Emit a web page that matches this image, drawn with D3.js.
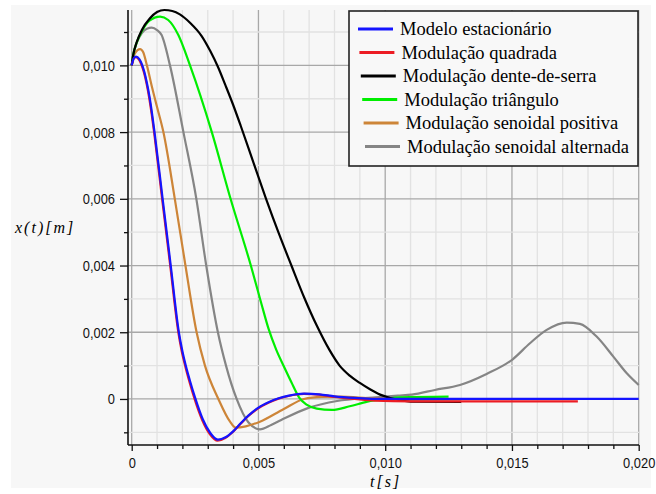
<!DOCTYPE html>
<html>
<head>
<meta charset="utf-8">
<script src="https://cdn.jsdelivr.net/npm/d3@7"></script>
<style>
  html, body { margin: 0; padding: 0; background: #ffffff; }
  svg { display: block; }
  .tick-label { font-family: "Liberation Sans", Arial, sans-serif; font-size: 15.5px; fill: #111; }
  .legend-text { font-family: "Liberation Serif", "Times New Roman", serif; font-size: 18.5px; fill: #000; }
  .axis-title { font-family: "Liberation Serif", "Times New Roman", serif; font-style: italic; font-size: 16px; fill: #000; }
</style>
</head>
<body>
<svg id="chart" width="656" height="494"></svg>
<script>
// Displacement x(t) [m] versus time t [s] for each modulation, as [t, x] pairs.
const modeloEstacionario = [
  [0, 0.01000], [0.00008, 0.01021], [0.00017, 0.01026], [0.00030, 0.01019], [0.00040, 0.01004],
  [0.00050, 0.00980], [0.00060, 0.00947], [0.00070, 0.00907], [0.00080, 0.00857], [0.00090, 0.00800],
  [0.00122, 0.00600], [0.00154, 0.00400], [0.00186, 0.00200], [0.00200, 0.00143], [0.00214, 0.00098],
  [0.00230, 0.00054], [0.00250, 0.00004], [0.00280, -0.00060], [0.00310, -0.00102], [0.00340, -0.00122],
  [0.00370, -0.00115], [0.00400, -0.00097], [0.00430, -0.00073], [0.00460, -0.00050], [0.00500, -0.00026],
  [0.00540, -0.00010], [0.00580, 0.00002], [0.00620, 0.00010], [0.00680, 0.00016], [0.00740, 0.00014],
  [0.00800, 0.00008], [0.00880, 0.00003], [0.00960, 0.00000], [0.01200, 0.00000], [0.02000, 0.00000]
];
const modulacaoQuadrada = [
  [0, 0.01000], [0.00008, 0.01020], [0.00016, 0.01025], [0.00029, 0.01017], [0.00039, 0.01001],
  [0.00049, 0.00977], [0.00059, 0.00944], [0.00069, 0.00903], [0.00079, 0.00853], [0.00089, 0.00796],
  [0.00120, 0.00600], [0.00152, 0.00400], [0.00184, 0.00200], [0.00198, 0.00141], [0.00212, 0.00096],
  [0.00228, 0.00051], [0.00248, 0.00000], [0.00278, -0.00063], [0.00308, -0.00105], [0.00339, -0.00125],
  [0.00369, -0.00117], [0.00399, -0.00099], [0.00429, -0.00075], [0.00459, -0.00052], [0.00499, -0.00028],
  [0.00539, -0.00011], [0.00579, 0.00001], [0.00619, 0.00009], [0.00679, 0.00015], [0.00739, 0.00013],
  [0.00800, 0.00006], [0.00880, 0.00000], [0.00960, -0.00005], [0.01100, -0.00007], [0.01760, -0.00007]
];
const modulacaoDenteDeSerra = [
  [0, 0.01000], [0.00006, 0.01031], [0.00020, 0.01070], [0.00040, 0.01106], [0.00072, 0.01141],
  [0.00100, 0.01160], [0.00129, 0.01166], [0.00160, 0.01163], [0.00190, 0.01153], [0.00230, 0.01128],
  [0.00276, 0.01088], [0.00310, 0.01043], [0.00340, 0.00996], [0.00370, 0.00940], [0.00400, 0.00882],
  [0.00430, 0.00819], [0.00480, 0.00709], [0.00530, 0.00600], [0.00580, 0.00497], [0.00630, 0.00400],
  [0.00680, 0.00305], [0.00730, 0.00220], [0.00780, 0.00147], [0.00820, 0.00100], [0.00860, 0.00070],
  [0.00900, 0.00048], [0.00940, 0.00029], [0.00980, 0.00013], [0.01020, 0.00003], [0.01060, -0.00004],
  [0.01100, -0.00008], [0.01300, -0.00009]
];
const modulacaoTriangulo = [
  [0, 0.01000], [0.00006, 0.01031], [0.00020, 0.01069], [0.00040, 0.01102], [0.00070, 0.01134],
  [0.00112, 0.01146], [0.00144, 0.01136], [0.00184, 0.01091], [0.00230, 0.01000], [0.00316, 0.00800],
  [0.00390, 0.00600], [0.00470, 0.00400], [0.00510, 0.00290], [0.00540, 0.00210], [0.00570, 0.00148],
  [0.00600, 0.00098], [0.00630, 0.00050], [0.00660, 0.00005], [0.00690, -0.00017], [0.00730, -0.00029],
  [0.00790, -0.00033], [0.00860, -0.00022], [0.00930, -0.00008], [0.01000, 0.00000], [0.01060, 0.00005],
  [0.01250, 0.00007]
];
const modulacaoSenoidalPositiva = [
  [0, 0.01000], [0.00012, 0.01035], [0.00033, 0.01049], [0.00045, 0.01040], [0.00060, 0.01000],
  [0.00080, 0.00935], [0.00100, 0.00875], [0.00125, 0.00800], [0.00170, 0.00600], [0.00212, 0.00400],
  [0.00256, 0.00200], [0.00289, 0.00100], [0.00342, 0.00000], [0.00388, -0.00068], [0.00410, -0.00086],
  [0.00450, -0.00082], [0.00506, -0.00068], [0.00600, -0.00030], [0.00680, 0.00000], [0.00750, 0.00006],
  [0.00820, 0.00007], [0.00950, 0.00002], [0.01050, 0.00000], [0.01200, 0.00000]
];
const modulacaoSenoidalAlternada = [
  [0, 0.01000], [0.00006, 0.01031], [0.00020, 0.01068], [0.00040, 0.01097], [0.00060, 0.01110],
  [0.00079, 0.01113], [0.00100, 0.01106], [0.00118, 0.01091], [0.00151, 0.01000], [0.00204, 0.00800],
  [0.00255, 0.00600], [0.00294, 0.00400], [0.00340, 0.00200], [0.00372, 0.00100], [0.00414, 0.00000],
  [0.00460, -0.00070], [0.00506, -0.00091], [0.00550, -0.00078], [0.00590, -0.00063], [0.00700, -0.00026],
  [0.00810, -0.00006], [0.00950, 0.00004], [0.01050, 0.00010], [0.01105, 0.00013], [0.01196, 0.00027],
  [0.01295, 0.00042], [0.01400, 0.00075], [0.01503, 0.00119], [0.01571, 0.00167], [0.01637, 0.00207],
  [0.01716, 0.00229], [0.01768, 0.00225], [0.01834, 0.00187], [0.01900, 0.00127], [0.01953, 0.00077],
  [0.02000, 0.00042]
];

const seriesNames = [
  "Modelo estacionário",
  "Modulação quadrada",
  "Modulação dente-de-serra",
  "Modulação triângulo",
  "Modulação senoidal positiva",
  "Modulação senoidal alternada"
];
const seriesData = [
  modeloEstacionario, modulacaoQuadrada, modulacaoDenteDeSerra,
  modulacaoTriangulo, modulacaoSenoidalPositiva, modulacaoSenoidalAlternada
];
const seriesColors = ["#1414ff", "#ec1c24", "#000000", "#00ee00", "#cd8538", "#858585"];

const xDomain = [0, 0.02];
const yDomain = [-0.00138, 0.01166];
const xMajorTicks = [0, 0.005, 0.010, 0.015, 0.020];
const yMajorTicks = [0, 0.002, 0.004, 0.006, 0.008, 0.010];

const svg = d3.select("#chart");

// panel background
svg.append("rect").attr("x", 11).attr("y", 5).attr("width", 640).attr("height", 483).attr("fill", "#f7f7f7");

const x = d3.scaleLinear().domain(xDomain).range([131.7, 638.7]);
const y = d3.scaleLinear().domain(yDomain).range([445, 10]);

const axisX0 = 128;   // y axis line position
const plotTop = 10, plotBottom = 445, plotRight = 639;

const fmt = d3.formatLocale({ decimal: ",", thousands: ".", grouping: [3], currency: ["", ""] }).format(".3f");
const label = v => (Math.abs(v) < 1e-12 ? "0" : fmt(v));
const narrow = 0.83;   // horizontal squeeze of the numeric labels

const xMinor = d3.range(0, 0.02 + 1e-9, 0.001);
const yMinor = d3.range(-0.001, 0.0115, 0.001);
const isMajorX = t => xMajorTicks.some(m => Math.abs(m - t) < 1e-9);
const isMajorY = v => Math.round(v * 1000) % 2 === 0;

// grid
const grid = svg.append("g");
grid.selectAll("line.vx").data(xMinor).join("line")
  .attr("x1", d => x(d)).attr("x2", d => x(d))
  .attr("y1", plotTop).attr("y2", plotBottom)
  .attr("stroke", d => isMajorX(d) ? "#a8a8a8" : "#e2e2e2")
  .attr("stroke-width", 1.3);
grid.selectAll("line.hy").data(yMinor).join("line")
  .attr("x1", axisX0).attr("x2", plotRight)
  .attr("y1", d => y(d)).attr("y2", d => y(d))
  .attr("stroke", d => isMajorY(d) ? "#a8a8a8" : "#e2e2e2")
  .attr("stroke-width", 1.3);

// curves, last legend entry drawn first
const line = d3.line().x(d => x(d[0])).y(d => y(d[1])).curve(d3.curveMonotoneX);
const order = [5, 4, 3, 2, 1, 0];
svg.append("g").selectAll("path").data(order).join("path")
  .attr("d", i => line(seriesData[i]))
  .attr("fill", "none")
  .attr("stroke", i => seriesColors[i])
  .attr("stroke-width", 2.2)
  .attr("stroke-linejoin", "round");

function styleLabels(g) {
  g.selectAll(".tick text").each(function () {
    const t = d3.select(this);
    const x0 = +t.attr("x") || 0;
    t.attr("class", "tick-label")
      .attr("fill", null)
      .attr("x", x0 / narrow)
      .attr("transform", `scale(${narrow},1)`);
  });
}

// y axis
const yAxisMinor = d3.axisLeft(y).tickValues(yMinor.filter(v => !isMajorY(v))).tickSize(4).tickFormat("");
const yAxisMajor = d3.axisLeft(y).tickValues(yMajorTicks).tickSize(8).tickPadding(5).tickFormat(label);
const gy1 = svg.append("g").attr("transform", `translate(${axisX0},0)`).call(yAxisMinor);
const gy2 = svg.append("g").attr("transform", `translate(${axisX0},0)`).call(yAxisMajor);
[gy1, gy2].forEach(g => {
  g.select(".domain").remove();
  g.selectAll(".tick line").attr("stroke", "#111").attr("stroke-width", 1.3);
});
styleLabels(gy2);
svg.append("line").attr("x1", axisX0).attr("x2", axisX0).attr("y1", plotTop).attr("y2", plotBottom)
  .attr("stroke", "#111").attr("stroke-width", 1.6);

// x axis
const xAxisMinor = d3.axisBottom(x).tickValues(xMinor.filter(t => !isMajorX(t))).tickSize(4).tickFormat("");
const xAxisMajor = d3.axisBottom(x).tickValues(xMajorTicks).tickSize(6).tickPadding(6.5).tickFormat(label);
const gx1 = svg.append("g").attr("transform", `translate(0,${plotBottom})`).call(xAxisMinor);
const gx2 = svg.append("g").attr("transform", `translate(0,${plotBottom})`).call(xAxisMajor);
[gx1, gx2].forEach(g => {
  g.select(".domain").remove();
  g.selectAll(".tick line").attr("stroke", "#111").attr("stroke-width", 1.3);
});
styleLabels(gx2);
svg.append("line").attr("x1", axisX0).attr("x2", plotRight).attr("y1", plotBottom).attr("y2", plotBottom)
  .attr("stroke", "#111").attr("stroke-width", 1.6);

// axis titles
svg.append("text").attr("class", "axis-title").attr("x", 15).attr("y", 233)
  .attr("letter-spacing", "2px").text("x(t)[m]");
svg.append("text").attr("class", "axis-title").attr("x", 370).attr("y", 487)
  .attr("letter-spacing", "2px").text("t[s]");

// legend
const lg = svg.append("g");
lg.append("rect").attr("x", 349).attr("y", 11).attr("width", 289).attr("height", 155)
  .attr("fill", "#f8f8f8").attr("stroke", "#222").attr("stroke-width", 1.6);
seriesNames.forEach((name, i) => {
  const cy = 29 + i * 23.5;
  const dx = i * 1.4;
  lg.append("line").attr("x1", 358 + dx).attr("x2", 393 + dx).attr("y1", cy).attr("y2", cy)
    .attr("stroke", seriesColors[i]).attr("stroke-width", 3);
  lg.append("text").attr("class", "legend-text").attr("x", 400 + dx).attr("y", cy + 6).text(name);
});
</script>
</body>
</html>
